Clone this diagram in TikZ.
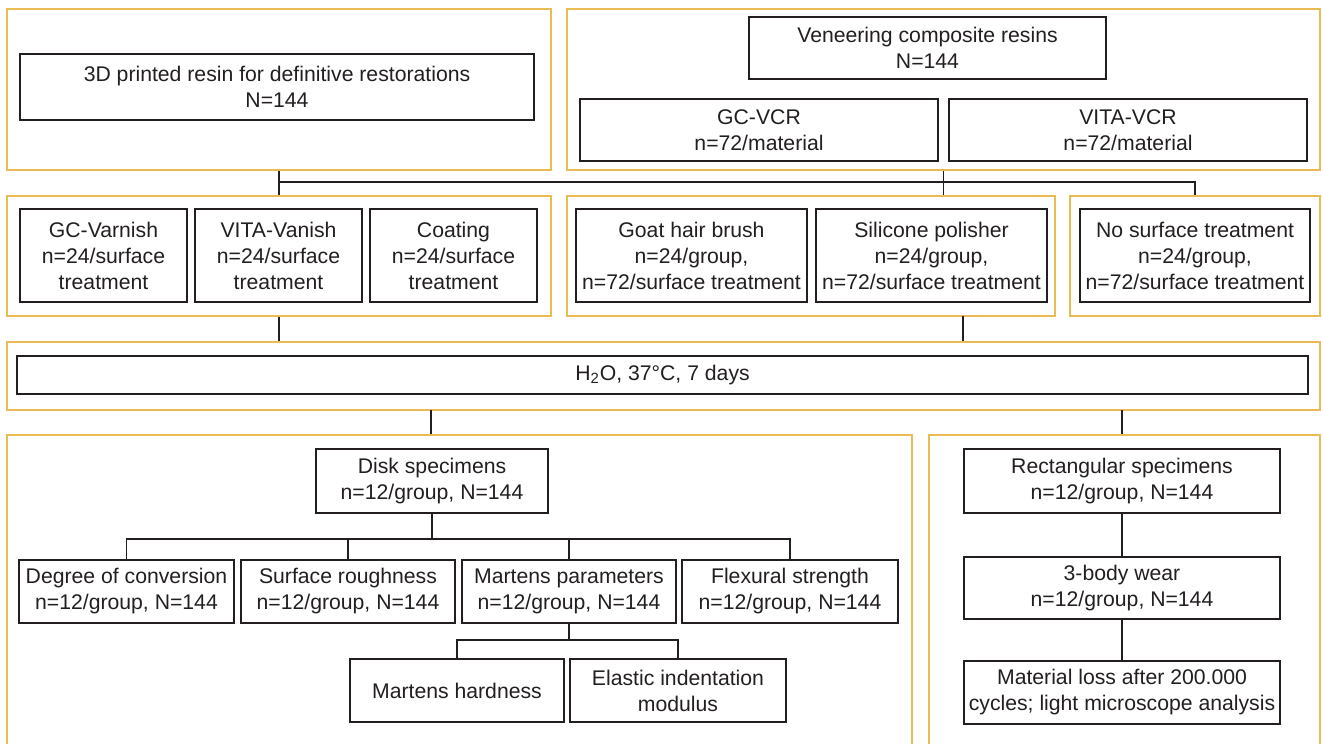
\documentclass[tikz,border=0pt]{standalone}
\usepackage{fontspec}
\setmainfont{Liberation Sans}
\definecolor{orng}{RGB}{234,187,82}
\definecolor{ink}{RGB}{35,31,32}
\newcommand\mybox[7]{%
  \pgfmathsetmacro\cxx{(#3+#5)/2}\pgfmathsetmacro\cyy{(#4+#6)/2}%
  \pgfmathsetmacro\ww{(#5-#3)*0.5}\pgfmathsetmacro\hh{(#6-#4)*0.5}%
  \node[#1, minimum width=\ww pt, minimum height=\hh pt] (#2) at (\cxx,\cyy) {#7};}
\begin{document}
\begin{tikzpicture}[x=0.5pt,y=-0.5pt,
  blackbox/.style={draw=ink, line width=0.8pt, fill=white, align=center, inner sep=0pt, text=ink, font=\fontsize{10.6}{13}\selectfont},
  orangebox/.style={draw=orng, line width=0.75pt, inner sep=0pt},
  conn/.style={draw=ink, line width=0.7pt}]
\useasboundingbox (0,0) rectangle (1323,744);
\clip (0,0) rectangle (1323,744);
% orange containers
\mybox{orangebox}{o1}{7}{9}{551}{170}{}
\mybox{orangebox}{o2}{567}{9}{1320}{170}{}
\mybox{orangebox}{o3}{7}{196}{551}{316}{}
\mybox{orangebox}{o4}{567}{196}{1055}{316}{}
\mybox{orangebox}{o5}{1070}{196}{1320}{316}{}
\mybox{orangebox}{o6}{7}{342}{1320}{410}{}
\mybox{orangebox}{o7}{7}{435}{912}{770}{}
\mybox{orangebox}{o8}{929}{435}{1320}{770}{}
% black boxes
\mybox{blackbox}{b1}{20}{54}{534}{120}{3D printed resin for definitive restorations\\N=144}
\mybox{blackbox}{b2}{749}{17}{1106}{79}{Veneering composite resins\\N=144}
\mybox{blackbox}{b3}{580}{99}{938}{161}{GC-VCR\\n=72/material}
\mybox{blackbox}{b4}{949}{99}{1307}{161}{VITA-VCR\\n=72/material}
\mybox{blackbox}{b5}{20}{209}{187}{302}{GC-Varnish\\n=24/surface\\treatment}
\mybox{blackbox}{b6}{195}{209}{362}{302}{VITA-Vanish\\n=24/surface\\treatment}
\mybox{blackbox}{b7}{370}{209}{537}{302}{Coating\\n=24/surface\\treatment}
\mybox{blackbox}{b8}{576}{209}{807}{302}{Goat hair brush\\n=24/group,\\n=72/surface treatment}
\mybox{blackbox}{b9}{816}{209}{1047}{302}{Silicone polisher\\n=24/group,\\n=72/surface treatment}
\mybox{blackbox}{b10}{1080}{209}{1310}{302}{No surface treatment\\n=24/group,\\n=72/surface treatment}
\mybox{blackbox}{b11}{17}{356}{1308}{394}{H\textsubscript{2}O, 37°C, 7 days}
\mybox{blackbox}{b12}{316}{449}{548}{513}{Disk specimens\\n=12/group, N=144}
\mybox{blackbox}{b13}{19}{560}{234}{623}{Degree of conversion\\n=12/group, N=144}
\mybox{blackbox}{b14}{241}{560}{455}{623}{Surface roughness\\n=12/group, N=144}
\mybox{blackbox}{b15}{462}{560}{676}{623}{Martens parameters\\n=12/group, N=144}
\mybox{blackbox}{b16}{682}{560}{898}{623}{Flexural strength\\n=12/group, N=144}
\mybox{blackbox}{b17}{350}{659}{564}{722}{Martens hardness}
\mybox{blackbox}{b18}{570}{659}{786}{722}{Elastic indentation\\modulus}
\mybox{blackbox}{b19}{964}{449}{1280}{513}{Rectangular specimens\\n=12/group, N=144}
\mybox{blackbox}{b20}{964}{557}{1280}{619}{3-body wear\\n=12/group, N=144}
\mybox{blackbox}{b21}{964}{661}{1280}{724}{Material loss after 200.000\\cycles; light microscope analysis}
% connectors
\coordinate (busl) at (279,182);
\coordinate (busr) at (1195,182);
\draw[conn] (o1.south) -- (o1.south |- o3.north);
\draw[conn] (o2.south) -- (o2.south |- o4.north);
\draw[conn] (busl) -- (busr) -- (busr |- o5.north);
\draw[conn] (o3.south) -- (o3.south |- o6.north);
\coordinate (c4) at (963,316);
\draw[conn] (c4) -- (c4 |- o6.north);
\coordinate (c6a) at (431,410);
\coordinate (c6b) at (1122,410);
\draw[conn] (c6a) -- (c6a |- o7.north);
\draw[conn] (c6b) -- (c6b |- o8.north);
% disk tree
\coordinate (dbus) at (0,539);
\draw[conn] (b12.south) -- (b12.south |- dbus);
\draw[conn] (b13.north) -- (b13.north |- dbus) -- (b16.north |- dbus) -- (b16.north);
\draw[conn] (b14.north) -- (b14.north |- dbus);
\draw[conn] (b15.north) -- (b15.north |- dbus);
\coordinate (mbus) at (0,640);
\draw[conn] (b15.south) -- (b15.south |- mbus);
\draw[conn] (b17.north) -- (b17.north |- mbus) -- (b18.north |- mbus) -- (b18.north);
% rectangular chain
\draw[conn] (b19.south) -- (b20.north);
\draw[conn] (b20.south) -- (b21.north);
\end{tikzpicture}
\end{document}
